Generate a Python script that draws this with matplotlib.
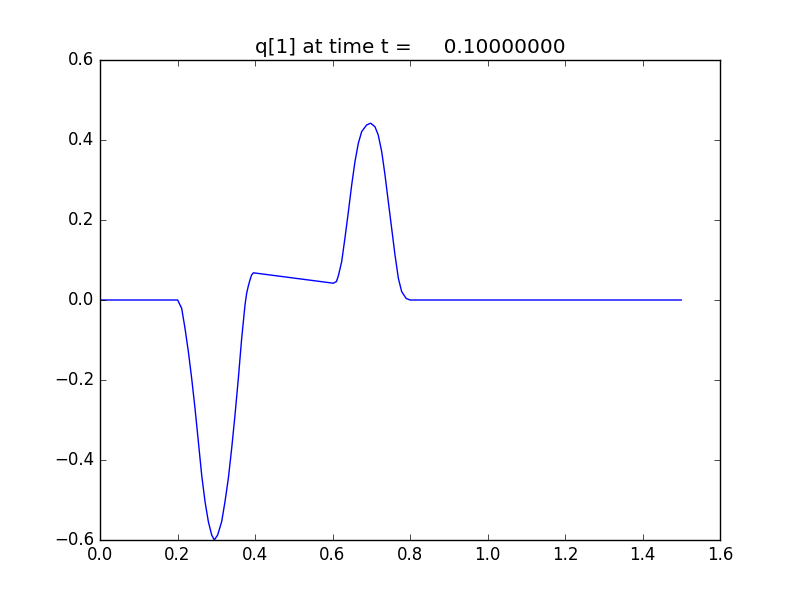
import matplotlib
matplotlib.use("Agg")
import matplotlib.pyplot as plt

plt.style.use("classic")

x = [0.0, 0.2004, 0.2108, 0.2194, 0.2280, 0.2366, 0.2452, 0.2538, 0.2624,
     0.2710, 0.2796, 0.2882, 0.2950, 0.3036, 0.3140, 0.3226, 0.3312, 0.3398,
     0.3484, 0.3570, 0.3656, 0.3742, 0.3785, 0.3830, 0.3870, 0.3910, 0.3957,
     0.6020, 0.6100, 0.6150, 0.6237, 0.6320, 0.6410, 0.6495, 0.6580, 0.6667,
     0.6753, 0.6880, 0.6985, 0.7097, 0.7180, 0.7270, 0.7355, 0.7440, 0.7527,
     0.7613, 0.7700, 0.7785, 0.7900, 0.8000, 1.5]
q = [0.0, 0.0, -0.021, -0.071, -0.129, -0.196, -0.271, -0.354, -0.4375,
     -0.504, -0.554, -0.5875, -0.600, -0.5875, -0.554, -0.504, -0.446, -0.371,
     -0.2875, -0.196, -0.096, -0.0125, 0.017, 0.036, 0.050, 0.062, 0.068,
     0.042, 0.046, 0.060, 0.096, 0.154, 0.221, 0.2875, 0.346, 0.392,
     0.421, 0.4375, 0.442, 0.433, 0.4125, 0.371, 0.3125, 0.246, 0.179,
     0.1125, 0.054, 0.021, 0.004, 0.0, 0.0]

title = "q[1] at time t =     0.10000000"

fig = plt.figure(figsize=(8, 6), dpi=100)
ax = fig.add_subplot(111)
ax.plot(x, q, color="b", linewidth=1)
ax.set_xlim(0.0, 1.6)
ax.set_ylim(-0.6, 0.6)
ax.set_title(title)
fig.savefig("out.png", dpi=100)
